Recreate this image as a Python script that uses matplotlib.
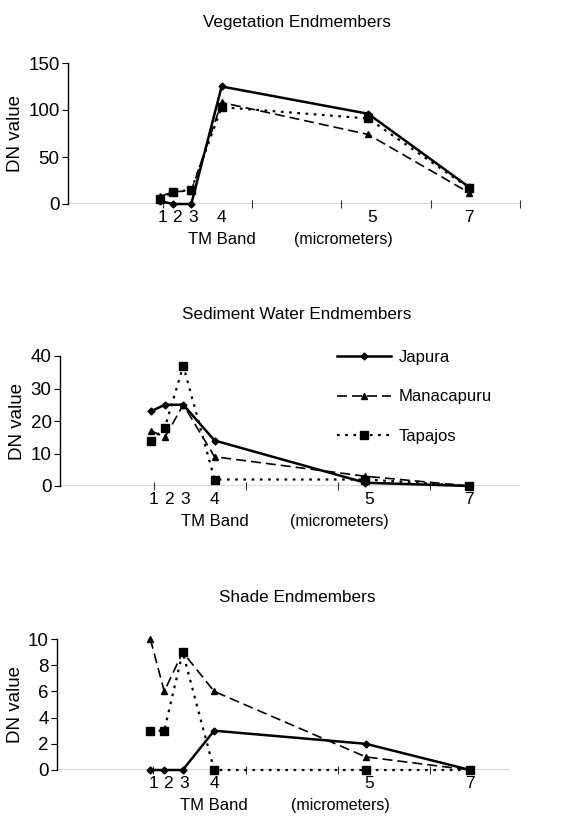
import matplotlib
matplotlib.use("Agg")
import matplotlib.pyplot as plt
from matplotlib.lines import Line2D

plt.rcParams['font.family'] = ['Liberation Sans', 'DejaVu Sans']

# TM band centre wavelengths (micrometers)
wavelength = [0.485, 0.56, 0.66, 0.83, 1.65, 2.215]
band_labels = ['1', '2', '3', '4', '5', '7']
series_names = ['Japura', 'Manacapuru', 'Tapajos']

veg_japura = [3, 0, 0, 125, 96, 18]
veg_manacapuru = [8, 13, 14, 108, 74, 12]
veg_tapajos = [5, 13, 15, 103, 91, 17]

sed_japura = [23, 25, 25, 14, 1, 0]
sed_manacapuru = [17, 15, 25, 9, 3, 0]
sed_tapajos = [14, 18, 37, 2, 2, 0]

shade_japura = [0, 0, 0, 3, 2, 0]
shade_manacapuru = [10, 6, 9, 6, 1, 0]
shade_tapajos = [3, 3, 9, 0, 0, 0]

titles = ['Vegetation Endmembers', 'Sediment Water Endmembers', 'Shade Endmembers']
yticks_list = [[0, 50, 100, 150], [0, 10, 20, 30, 40], [0, 2, 4, 6, 8, 10]]

styles = [dict(ls='-', lw=1.8, marker='D', ms=3.5),
          dict(ls=(0, (6, 3)), lw=1.2, marker='^', ms=5),
          dict(ls=(0, (1.2, 2.5)), lw=1.6, marker='s', ms=5.5)]

W, H = 564, 816
fig = plt.figure(figsize=(W / 100, H / 100), dpi=100)

# axes boxes in pixels: left, right, top(y of max), bottom(y of zero)
boxes = [(68, 520, 63, 204), (60, 520, 356, 486), (57, 510, 639, 770)]
xlims = [(-0.03, 2.5), (-0.01, 2.49), (-0.02, 2.43)]
ylims = [(0, 150), (0, 40), (0, 10)]
title_y = [22, 315, 597]
label_pos_x = [0.50, 0.58, 0.67, 0.83, 1.67, 2.215]

data = [[veg_japura, veg_manacapuru, veg_tapajos],
        [sed_japura, sed_manacapuru, sed_tapajos],
        [shade_japura, shade_manacapuru, shade_tapajos]]

for i in range(3):
    l, r, t, b = boxes[i]
    ax = fig.add_axes([l / W, 1 - b / H, (r - l) / W, (b - t) / H])
    ax.set_xlim(*xlims[i])
    ax.set_ylim(*ylims[i])
    for vals, st, name in zip(data[i], styles, series_names):
        ax.plot(wavelength, vals, color='black', clip_on=False, label=name, **st)
    for s in ['top', 'right', 'bottom']:
        ax.spines[s].set_visible(False)
    ax.spines['left'].set_linewidth(1.0)
    ax.axhline(0, color='#333333', lw=1.0, zorder=1)
    ax.set_yticks(yticks_list[i])
    ax.tick_params(axis='y', direction='out', length=4, labelsize=13.5, pad=2)
    xt = [x for x in [0.5, 1.0, 1.5, 2.0, 2.5] if x <= xlims[i][1]]
    ax.set_xticks(xt)
    ax.set_xticklabels([])
    ax.tick_params(axis='x', direction='inout', length=6, width=0.8, color='#333333')
    ax.set_ylabel('DN value', fontsize=13.5, labelpad=3)
    for xp, lab in zip(label_pos_x, band_labels):
        ax.annotate(lab, (xp, 0), xytext=(0, -4), textcoords='offset points',
                    ha='center', va='top', fontsize=12.5)
    ax.annotate('TM Band', (0.83, 0), xytext=(0, -20), textcoords='offset points',
                ha='center', va='top', fontsize=12)
    ax.annotate('(micrometers)', (1.51, 0), xytext=(0, -20), textcoords='offset points',
                ha='center', va='top', fontsize=11.5)
    fig.text(297 / W, 1 - title_y[i] / H, titles[i], ha='center', va='center', fontsize=12.3)
    if i == 1:
        handles = [Line2D([0], [0], color='black', **st) for st in styles]
        ax.legend(handles, series_names, loc='upper left', bbox_to_anchor=(0.57, 1.16),
                  frameon=False, fontsize=12, handlelength=3.2, labelspacing=1.45,
                  handletextpad=0.5)

fig.savefig('out.png', dpi=100)
